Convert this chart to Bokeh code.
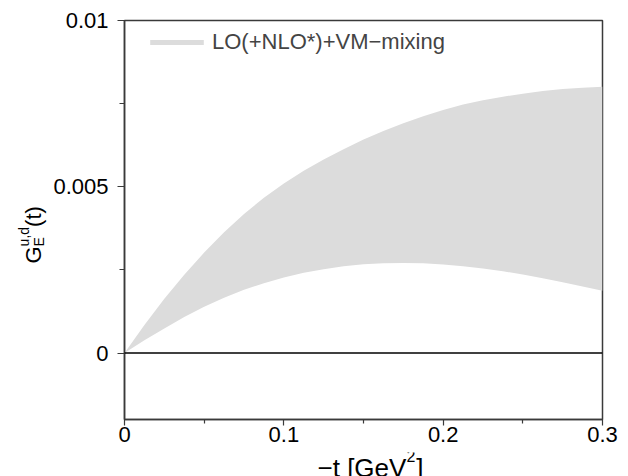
import math
from bokeh.plotting import figure
from bokeh.layouts import row, column
from bokeh.models import Range1d, FixedTicker, Label, Span, Legend, LegendItem
from bokeh.embed import file_html
from bokeh.resources import INLINE

# ---- data ----
t_vals = [0, 0.0125, 0.025, 0.0375, 0.05, 0.0625, 0.075, 0.0875, 0.1, 0.1125,
          0.125, 0.1375, 0.15, 0.1625, 0.175, 0.1875, 0.2, 0.2125, 0.225, 0.2375,
          0.25, 0.2625, 0.275, 0.2875, 0.3]
band_upper = [0, 0.00084, 0.00163, 0.00235, 0.00302, 0.00363, 0.00418, 0.00467,
              0.00510, 0.00548, 0.00582, 0.00613, 0.00642, 0.00668, 0.00691,
              0.00712, 0.00731, 0.00747, 0.00760, 0.00771, 0.00780, 0.00788,
              0.00794, 0.00798, 0.00801]
band_lower = [0, 0.00038, 0.00074, 0.00108, 0.00139, 0.00166, 0.00190, 0.00210,
              0.00227, 0.00241, 0.00252, 0.00261, 0.00267, 0.00270, 0.00271,
              0.00270, 0.00266, 0.00261, 0.00254, 0.00246, 0.00236, 0.00225,
              0.00213, 0.00200, 0.00187]
legend_label = "LO(+NLO*)+VM\u2212mixing"

x_ticks = [0, 0.1, 0.2, 0.3]
x_tick_labels = ["0", "0.1", "0.2", "0.3"]
x_minor_ticks = [0.05, 0.15, 0.25]
y_ticks = [0, 0.005, 0.01]
y_tick_labels = ["0", "0.005", "0.01"]
y_minor_ticks = [0.0025, 0.0075]
x_limits = [0, 0.3]
y_limits = [-0.002, 0.01]

FONT = "Liberation Sans"
AX = "#3a3a3a"

# ---------------- main plot ----------------
p = figure(width=578, height=452, output_backend="svg", toolbar_location=None,
           x_range=Range1d(*x_limits), y_range=Range1d(*y_limits),
           min_border_left=73, min_border_right=26, min_border_top=20,
           min_border_bottom=33)
p.grid.visible = False
p.background_fill_color = "white"
p.border_fill_color = "white"
p.outline_line_color = AX
p.outline_line_width = 1.5

band = p.varea(x=t_vals, y1=band_lower, y2=band_upper, fill_color="#dcdcdc")

p.add_layout(Span(location=0, dimension="width", line_color="black", line_width=1.5))

for ax in (p.xaxis[0], p.yaxis[0]):
    ax.axis_line_color = AX
    ax.axis_line_width = 1.5
    ax.major_tick_line_color = AX
    ax.minor_tick_line_color = AX
    ax.major_tick_line_width = 1.2
    ax.minor_tick_line_width = 1.2
    ax.major_tick_in = 0
    ax.minor_tick_in = 0
    ax.major_label_text_font = FONT
    ax.major_label_text_font_size = "22px"
    ax.major_label_text_color = "black"

p.xaxis.ticker = FixedTicker(ticks=x_ticks, minor_ticks=x_minor_ticks)
p.xaxis.major_label_overrides = dict(zip(x_ticks, x_tick_labels))
p.xaxis.major_tick_out = 6
p.xaxis.minor_tick_out = 4
p.xaxis.major_label_standoff = 1

p.yaxis.ticker = FixedTicker(ticks=y_ticks, minor_ticks=y_minor_ticks)
p.yaxis.major_label_overrides = dict(zip(y_ticks, y_tick_labels))
p.yaxis.major_tick_out = 7
p.yaxis.minor_tick_out = 5
p.yaxis.major_label_standoff = 9

legend = Legend(items=[LegendItem(label=legend_label, renderers=[band])],
                location=(19, 364), padding=0, margin=0, spacing=0,
                border_line_alpha=0, background_fill_alpha=0,
                glyph_width=67, glyph_height=6, label_standoff=2,
                label_text_font=FONT, label_text_font_size="22px")
p.add_layout(legend)


# ---------------- axis-title panels ----------------
def text_panel(w, h):
    f = figure(width=w, height=h, output_backend="svg", toolbar_location=None,
               x_axis_type=None, y_axis_type=None, min_border=0,
               x_range=Range1d(0, 1), y_range=Range1d(0, 1))
    f.outline_line_color = None
    f.grid.visible = False
    f.background_fill_color = "white"
    f.border_fill_color = "white"
    return f


def lab(fig, text, x, y, size, angle=0.0):
    fig.add_layout(Label(x=x, y=y, x_units="screen", y_units="screen", text=text,
                         angle=angle, text_font=FONT, text_font_size=f"{size}px",
                         text_color="black", text_align="left",
                         text_baseline="alphabetic"))


# y title: G^{u,d}_E(t), rotated, in a strip left of the plot
ylab = text_panel(50, 476)
R = math.pi / 2
gx, gy, gs, gss = 33, 213, 22, 14
lab(ylab, "G", gx, gy, gs, R)
lab(ylab, "u,d", gx - 10, gy + 0.778 * gs, gss, R)
lab(ylab, "E", gx + 5, gy + 0.778 * gs, gss, R)
lab(ylab, "(t)", gx, gy + 0.778 * gs + 1.39 * gss, gs, R)

# x title: −t [GeV²], in a strip under the plot (its frame aligns with the plot's)
xlab = text_panel(578, 24)
xs, ys, fs, fss = 193, 9, 26, 16
lab(xlab, "\u2212t [GeV", xs, ys, fs)
lab(xlab, "2", xs + 3.42 * fs, ys + 12, fss)
lab(xlab, "]", xs + 3.42 * fs + 0.556 * fss + 1, ys, fs)

layout = row(ylab, column(p, xlab, spacing=0), spacing=0)

open("out.html", "w").write(file_html(layout, INLINE))
